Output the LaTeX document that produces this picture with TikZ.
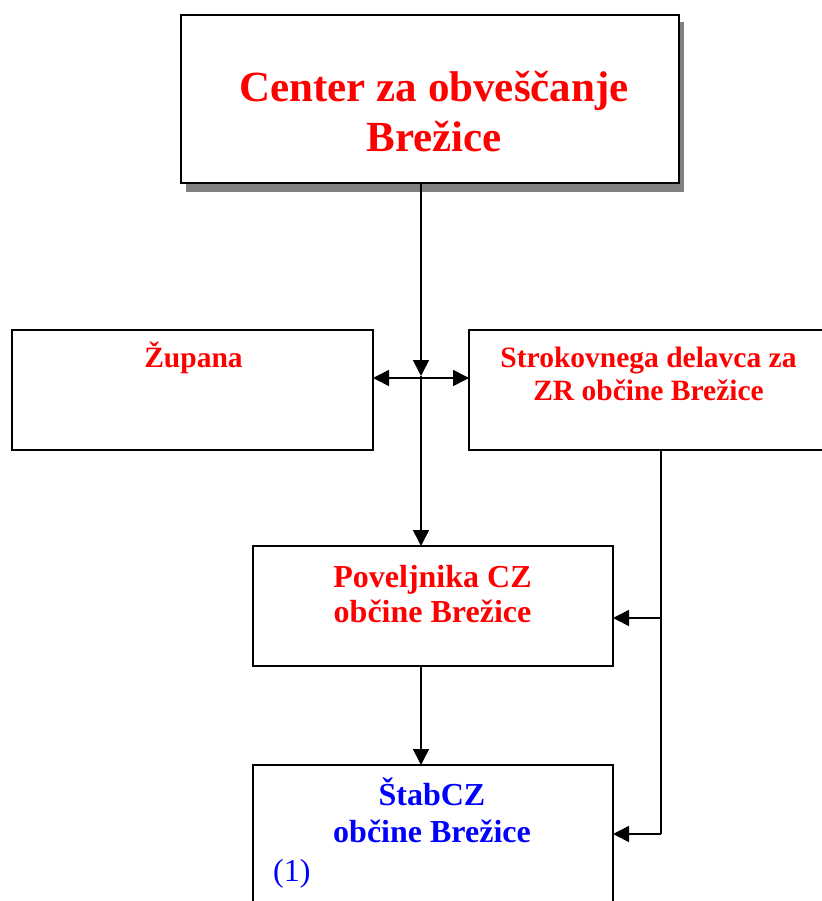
\documentclass[tikz,border=0pt]{standalone}
\usepackage{fontspec}
\setmainfont{Liberation Serif}
\usetikzlibrary{arrows.meta}
\definecolor{redtxt}{RGB}{255,0,0}
\definecolor{bluetxt}{RGB}{0,0,255}
\tikzset{
  box/.style={draw=black, line width=1.6pt, fill=white, inner sep=0pt, outer sep=0pt},
  conn/.style={line width=1.6pt, -{Triangle[length=16pt,width=16pt]}},
  plain/.style={line width=1.6pt},
  lbl/.style={align=center, anchor=base, inner sep=0pt},
}
\begin{document}
\begin{tikzpicture}[x=1pt,y=-1pt]
\useasboundingbox (0,0) rectangle (821,901);
% top box with shadow
\fill[black!50] (186,22) rectangle (684,192);
\node[box, minimum width=498pt, minimum height=168pt] (center) at (430,99) {};
\node[lbl, text=redtxt, font=\fontsize{43}{50}\selectfont\bfseries] (ctext) at (434,152) {Center za obveščanje\\Brežice};
% Zupana
\node[box, minimum width=361pt, minimum height=120pt] (zupana) at (192.5,390) {};
\node[lbl, text=redtxt, font=\fontsize{29.5}{33}\selectfont\bfseries] (zt) at (193.5,367) {Župana};
% Strokovnega
\node[box, minimum width=354pt, minimum height=120pt] (strok) at (646,390) {};
\node[lbl, text=redtxt, font=\fontsize{29.5}{33}\selectfont\bfseries] (st) at (648.5,400) {Strokovnega delavca za\\ZR občine Brežice};
% Poveljnika
\node[box, minimum width=360pt, minimum height=120pt] (povel) at (433,606) {};
\node[lbl, text=redtxt, font=\fontsize{32}{35}\selectfont\bfseries] (pt) at (432.5,622) {Poveljnika CZ\\občine Brežice};
% Stab
\node[box, minimum width=360pt, minimum height=160pt] (stab) at (433,845) {};
\node[lbl, text=bluetxt, font=\fontsize{32}{37}\selectfont\bfseries] (sbt) at (432,842) {ŠtabCZ\\občine Brežice};
\node[text=bluetxt, font=\fontsize{32}{36}\selectfont, anchor=base west, inner sep=0pt] (one) at (273,881) {(1)};
% connectors
\coordinate (j) at (421,378);
\coordinate (jt) at (421,376);
\draw[conn] (center.south -| j) -- (jt);
\draw[plain] (jt) -- (421,380);
\draw[conn] (j) -- (zupana.east |- j);
\draw[conn] (j) -- (strok.west |- j);
\draw[conn] (j) -- (povel.north -| j);
\draw[conn] (povel.south -| j) -- (stab.north -| j);
\coordinate (r1) at (661,618);
\coordinate (r2) at (661,834);
\draw[plain] (strok.south -| r1) -- (r2);
\draw[conn] (r1) -- (povel.east |- r1);
\draw[conn] (r2) -- (stab.east |- r2);
\end{tikzpicture}
\end{document}
